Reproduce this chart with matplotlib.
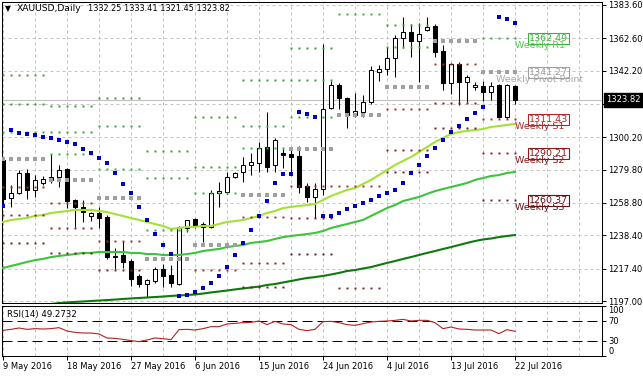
import numpy as np
import matplotlib
matplotlib.use('Agg')
import matplotlib.pyplot as plt

nan = np.nan

# XAUUSD daily bars 9 May - 22 Jul 2016 (broker has sunday bars)
opens = [1285.9, 1261.9, 1265.1, 1277.7, 1267.0, 1271.4, 1273.3, 1275.2, 1280.2, 1260.7,
         1256.3, 1250.6, 1252.5, 1250.0, 1225.4, 1226.0, 1222.2, 1212.8, 1207.7, 1209.6,
         1217.2, 1213.4, 1207.7, 1243.0, 1248.7, 1245.5, 1243.7, 1265.1, 1265.7, 1275.2,
         1278.3, 1282.7, 1284.0, 1294.1, 1282.7, 1290.3, 1289.7, 1288.4, 1269.5, 1262.6,
         1267.6, 1318.7, 1333.2, 1325.0, 1314.3, 1316.2, 1322.5, 1341.4, 1343.3, 1350.2,
         1362.8, 1366.6, 1360.9, 1367.8, 1370.4, 1354.6, 1334.4, 1346.4, 1335.1, 1331.9,
         1332.5, 1328.8, 1333.2, 1313.0, 1332.25]
highs = [1287.8, 1270.1, 1279.6, 1280.2, 1276.4, 1275.8, 1289.7, 1282.7, 1280.8, 1261.3,
         1260.7, 1253.1, 1256.3, 1251.2, 1230.4, 1234.8, 1223.5, 1214.0, 1210.9, 1218.4,
         1220.3, 1219.7, 1244.3, 1248.1, 1249.3, 1246.8, 1267.0, 1272.0, 1278.3, 1278.3,
         1287.8, 1290.3, 1297.2, 1316.2, 1299.8, 1292.8, 1294.1, 1294.7, 1271.4, 1271.4,
         1359.0, 1335.7, 1334.4, 1325.6, 1328.1, 1326.9, 1345.1, 1345.8, 1357.1, 1364.7,
         1376.0, 1371.6, 1372.2, 1376.0, 1371.6, 1358.4, 1347.0, 1347.7, 1339.5, 1335.1,
         1335.7, 1335.1, 1333.8, 1333.8, 1333.41]
lows = [1257.5, 1256.3, 1264.5, 1261.3, 1262.6, 1270.1, 1271.4, 1268.9, 1255.6, 1243.7,
        1246.8, 1247.4, 1243.0, 1223.5, 1217.2, 1217.8, 1206.5, 1205.8, 1199.5, 1208.3,
        1205.8, 1205.8, 1207.1, 1240.5, 1243.0, 1234.2, 1243.0, 1256.3, 1264.5, 1274.5,
        1272.0, 1276.4, 1278.3, 1278.3, 1278.3, 1280.8, 1278.3, 1265.1, 1259.4, 1249.3,
        1263.8, 1318.0, 1318.0, 1306.1, 1313.0, 1313.0, 1321.2, 1335.7, 1339.5, 1338.2,
        1356.5, 1350.8, 1335.1, 1367.2, 1350.8, 1330.0, 1327.5, 1320.6, 1322.5, 1330.0,
        1323.1, 1323.7, 1312.5, 1311.7, 1321.45]
closes = [1261.3, 1265.1, 1277.7, 1267.0, 1273.3, 1273.9, 1275.2, 1279.6, 1260.0, 1256.3,
          1253.1, 1252.5, 1249.3, 1224.7, 1225.0, 1221.6, 1210.9, 1207.7, 1210.2, 1217.2,
          1212.8, 1208.3, 1243.7, 1248.1, 1244.3, 1243.7, 1265.1, 1266.3, 1275.2, 1277.7,
          1282.7, 1284.6, 1293.5, 1281.5, 1298.5, 1289.0, 1287.8, 1268.9, 1262.6, 1267.6,
          1318.0, 1333.2, 1325.0, 1314.3, 1316.8, 1322.5, 1342.6, 1343.3, 1350.2, 1362.8,
          1366.6, 1360.9, 1365.3, 1369.7, 1354.0, 1334.4, 1346.4, 1335.1, 1338.2, 1333.2,
          1328.8, 1332.5, 1313.0, 1333.2, 1323.82]

# moving averages (fast / mid / slow)
ma_fast = [1246.8, 1248.1, 1248.7, 1249.3, 1250.6, 1251.2, 1252.5, 1253.1, 1253.7, 1254.4,
           1254.4, 1254.4, 1253.7, 1253.1, 1251.8, 1250.6, 1249.3, 1248.1, 1246.8, 1245.5,
           1244.3, 1242.4, 1243.0, 1243.7, 1243.7, 1244.3, 1244.3, 1245.5, 1246.8, 1247.4,
           1248.1, 1249.3, 1250.6, 1252.5, 1253.7, 1255.6, 1256.3, 1256.9, 1257.5, 1258.1,
           1260.7, 1263.2, 1265.1, 1267.0, 1268.2, 1270.8, 1273.3, 1276.4, 1279.6, 1282.7,
           1285.3, 1287.8, 1290.9, 1294.1, 1297.2, 1299.8, 1302.3, 1303.5, 1304.2, 1304.8,
           1305.4, 1306.7, 1307.3, 1308.0, 1308.6]
ma_mid = [1217.8, 1219.1, 1220.3, 1221.6, 1222.8, 1223.5, 1224.7, 1225.4, 1226.0, 1226.6,
          1227.3, 1227.3, 1227.9, 1227.9, 1227.9, 1227.9, 1227.3, 1227.3, 1226.6, 1226.6,
          1226.0, 1226.0, 1226.0, 1226.6, 1227.3, 1228.5, 1229.2, 1229.8, 1231.0, 1231.7,
          1232.3, 1233.6, 1234.2, 1234.8, 1236.1, 1237.3, 1238.0, 1238.6, 1239.2, 1239.9,
          1241.1, 1243.0, 1244.3, 1245.5, 1246.8, 1248.1, 1250.6, 1253.1, 1255.6, 1257.5,
          1260.0, 1261.3, 1262.6, 1264.5, 1266.3, 1267.6, 1268.9, 1270.1, 1271.4, 1273.3,
          1274.5, 1275.8, 1276.4, 1277.7, 1278.3]
ma_slow = [1192.6, 1193.2, 1193.5, 1193.9, 1194.5, 1194.8, 1195.1, 1195.7, 1196.1, 1196.4,
           1196.7, 1197.0, 1197.3, 1197.6, 1197.9, 1198.3, 1198.6, 1198.9, 1199.2, 1199.5,
           1199.8, 1200.2, 1200.5, 1200.8, 1201.1, 1201.7, 1202.4, 1203.0, 1203.6, 1204.3,
           1204.9, 1205.5, 1206.1, 1207.1, 1207.7, 1208.7, 1209.6, 1210.6, 1211.5, 1212.1,
           1212.8, 1213.7, 1214.7, 1215.9, 1216.5, 1217.5, 1218.4, 1219.7, 1221.0, 1222.2,
           1223.5, 1224.7, 1226.0, 1227.3, 1228.5, 1229.8, 1231.0, 1232.3, 1233.6, 1234.8,
           1235.8, 1236.4, 1237.3, 1238.0, 1238.6]

# parabolic sar
sar = [1256.9, 1304.8, 1302.9, 1302.3, 1301.6, 1300.4, 1299.8, 1298.5, 1297.2, 1296.0,
       1292.8, 1290.3, 1287.2, 1284.0, 1277.7, 1270.8, 1265.1, 1256.3, 1248.1, 1239.2,
       1232.3, 1226.6, 1200.2, 1200.8, 1202.7, 1205.2, 1208.3, 1212.8, 1218.4, 1226.0,
       1233.6, 1241.8, 1250.6, 1260.0, 1271.4, 1277.1, 1277.1, 1316.2, 1314.9, 1313.0,
       1250.6, 1250.6, 1252.5, 1255.0, 1256.9, 1258.8, 1260.7, 1263.2, 1265.1, 1267.0,
       1271.4, 1277.7, 1282.7, 1288.4, 1293.5, 1298.5, 1303.5, 1307.3, 1311.7, 1315.5,
       1319.3, nan, 1376.0, 1374.8, 1372.2]

rsi = [51.3, 53.3, 56.0, 53.3, 54.7, 54.0, 54.7, 56.7, 50.0, 47.3,
       46.0, 46.0, 44.0, 36.0, 35.3, 33.3, 30.7, 28.7, 32.0, 36.0,
       34.7, 32.7, 52.7, 53.3, 52.0, 54.7, 58.7, 58.7, 64.0, 65.3,
       66.7, 67.3, 70.0, 62.7, 69.3, 64.0, 62.7, 53.3, 50.7, 53.3,
       68.7, 69.3, 66.7, 62.7, 61.3, 64.7, 68.0, 69.3, 70.0, 71.3,
       73.3, 70.0, 71.3, 71.3, 66.7, 54.7, 58.0, 54.0, 53.3, 52.0,
       52.0, 52.0, 44.7, 52.7, 49.2732]

# weekly pivot levels, one value per week (bars week_start..week_end)
week_start = [0, 6, 12, 18, 24, 30, 36, 42, 48, 54, 60]
week_end = [5, 11, 17, 23, 29, 35, 41, 47, 53, 59, 64]
r3 = [1339.5, 1319.9, 1325.0, 1291.6, 1313.0, 1336.3, 1356.5, nan, nan, nan, nan]
r2 = [1321.2, 1303.5, 1307.3, 1274.5, 1281.5, 1307.3, 1336.3, nan, 1371.0, nan, nan]
r1 = [1303.5, 1289.7, 1280.2, 1241.8, 1265.1, 1293.5, 1313.0, 1377.9, 1357.1, nan, 1362.49]
pp = [1286.5, 1273.3, 1261.9, 1223.5, 1232.3, 1263.8, 1292.8, 1314.3, 1331.9, 1360.9, 1341.27]
s1 = [1268.9, 1258.8, 1234.8, nan, 1216.5, 1249.9, 1269.5, 1269.5, 1318.0, 1346.4, 1311.43]
s2 = [1251.2, 1243.0, 1216.5, nan, nan, 1220.9, 1249.3, 1205.2, 1292.2, 1321.8, 1290.21]
s3 = [1233.6, 1227.3, nan, nan, nan, 1205.8, 1226.6, nan, 1278.3, 1306.1, 1260.37]

date_bars = [0, 8, 16, 24, 32, 40, 48, 56, 64]
date_labels = ['9 May 2016', '18 May 2016', '27 May 2016', '6 Jun 2016', '15 Jun 2016',
               '24 Jun 2016', '4 Jul 2016', '13 Jul 2016', '22 Jul 2016']
price_ticks = [1197.00, 1217.40, 1238.40, 1258.80, 1279.80, 1300.20, 1321.20, 1342.20, 1362.60, 1383.60]

plt.rcParams['font.family'] = 'DejaVu Sans'
W, H = 643, 378
fig = plt.figure(figsize=(W / 100, H / 100), dpi=100)
ax = fig.add_axes([2 / W, 1 - 303 / H, 600 / W, 301 / H])
ax2 = fig.add_axes([2 / W, 1 - 356 / H, 600 / W, 50 / H])

x = np.arange(len(opens))
o = np.array(opens)
c = np.array(closes)
up = c >= o

gridc = '#C4C4C4'
for a in (ax, ax2):
    for g in range(0, 76, 4):
        a.axvline(g, color=gridc, lw=0.72, ls=(0, (3, 3)), zorder=0)
    a.set_xlim(-0.125, 74.875)
    for s in a.spines.values():
        s.set_linewidth(0.75)
for t in price_ticks:
    ax.axhline(t, color=gridc, lw=0.72, ls=(0, (3, 3)), zorder=0)

# bid line
ax.axhline(closes[-1], color='#C0C0C0', lw=0.8, zorder=1)

# candles
ax.vlines(x, lows, highs, color='black', lw=0.75, zorder=2)
ax.bar(x[up], (c - o)[up], bottom=o[up], width=0.6, facecolor='white',
       edgecolor='black', lw=0.75, zorder=3)
ax.bar(x[~up], (o - c)[~up], bottom=c[~up], width=0.6, facecolor='black',
       edgecolor='black', lw=0.75, zorder=3)

# moving averages
ax.plot(x, ma_slow, color='#0E7A0E', lw=1.5, zorder=4)
ax.plot(x, ma_mid, color='#3CC43C', lw=1.5, zorder=4)
ax.plot(x, ma_fast, color='#A2E234', lw=1.5, zorder=4)

# weekly pivot dots
levels = [(r3, '#2E9E2E', 1.4), (r2, '#2E9E2E', 1.4), (r1, '#2EAE2E', 1.4),
          (pp, '#A0A0A0', 2.3), (s1, '#A52A2A', 1.4), (s2, '#8B1A1A', 1.4), (s3, '#701515', 1.4)]
for lev, col, ms in levels:
    for i in range(len(week_start)):
        if np.isnan(lev[i]):
            continue
        xs = np.arange(week_start[i], week_end[i] + 1)
        ax.plot(xs, np.full(len(xs), lev[i]), ls='none', marker='s', ms=ms, mew=0,
                color=col, zorder=5)

# sar
ax.plot(x, sar, ls='none', marker='s', ms=2.5, mew=0, color='#0000C0', zorder=6)

# labels of the current week pivots
k_names = ['Weekly R1', 'Weekly Pivot Point', 'Weekly S1', 'Weekly S2', 'Weekly S3']
k_vals = [r1[-1], pp[-1], s1[-1], s2[-1], s3[-1]]
k_box = ['#3CB43C', '#A0A0A0', '#B02828', '#8B1A1A', '#6B1010']
k_txt = ['#4CCC4C', '#A8A8A8', '#B02828', '#8B1A1A', '#6B1010']
for name, v, cb, ct in zip(k_names, k_vals, k_box, k_txt):
    ax.text(65.75, v, f'{v:.2f}', ha='left', va='center', fontsize=6.8, color=cb, zorder=7,
            bbox=dict(boxstyle='square,pad=0.12', fc='none', ec=cb, lw=0.8))
    ax.annotate(name, xy=(67.1, v), xytext=(0, -5), textcoords='offset points',
                ha='center', va='center', fontsize=6.8, color=ct, zorder=8)

ax.set_ylim(1195.74, 1385.49)
ax.yaxis.tick_right()
ax.set_yticks(price_ticks)
ax.set_yticklabels([f'{t:.2f}' for t in price_ticks])
ax.tick_params(axis='y', length=3, width=0.7, pad=1.5, labelsize=6)
ax.set_xticks([])

ax.annotate(f'{closes[-1]:.2f}', xy=(1, closes[-1]), xycoords=('axes fraction', 'data'),
            xytext=(3, 0), textcoords='offset points', ha='left', va='center',
            color='white', fontsize=6,
            bbox=dict(boxstyle='square,pad=0.3', fc='black', ec='black'),
            annotation_clip=False, zorder=10)

# header
fig.text(5 / W, 1 - 8.5 / H, '\u25bc', fontsize=5.5, va='center')
fig.text(17 / W, 1 - 8.5 / H, 'XAUUSD,Daily', fontsize=6.6, va='center')
fig.text(88 / W, 1 - 8.5 / H,
         f'{opens[-1]:.2f} {highs[-1]:.2f} {lows[-1]:.2f} {closes[-1]:.2f}',
         fontsize=5.9, va='center')

# rsi panel
ax2.plot(x, rsi, color='#B22222', lw=0.8, zorder=3)
for lv in (70, 30):
    ax2.axhline(lv, color='black', lw=0.72, ls=(0, (10, 5)), zorder=2)
ax2.set_ylim(0, 100)
ax2.yaxis.tick_right()
ax2.set_yticks([0, 30, 70, 100])
ax2.set_yticklabels(['0', '30', '70', '100'])
ax2.tick_params(axis='y', length=3, width=0.7, pad=1.5, labelsize=6)
ylabs = ax2.get_yticklabels()
ylabs[0].set_va('bottom')
ylabs[3].set_va('top')
ax2.set_xticks(date_bars)
ax2.set_xticklabels(date_labels, ha='left')
ax2.tick_params(axis='x', length=3, width=0.7, pad=1.5, labelsize=6)
ax2.text(0.008, 0.83, f'RSI(14) {rsi[-1]:.4f}', transform=ax2.transAxes,
         va='center', fontsize=6.2)

fig.savefig('out.png', dpi=100)
